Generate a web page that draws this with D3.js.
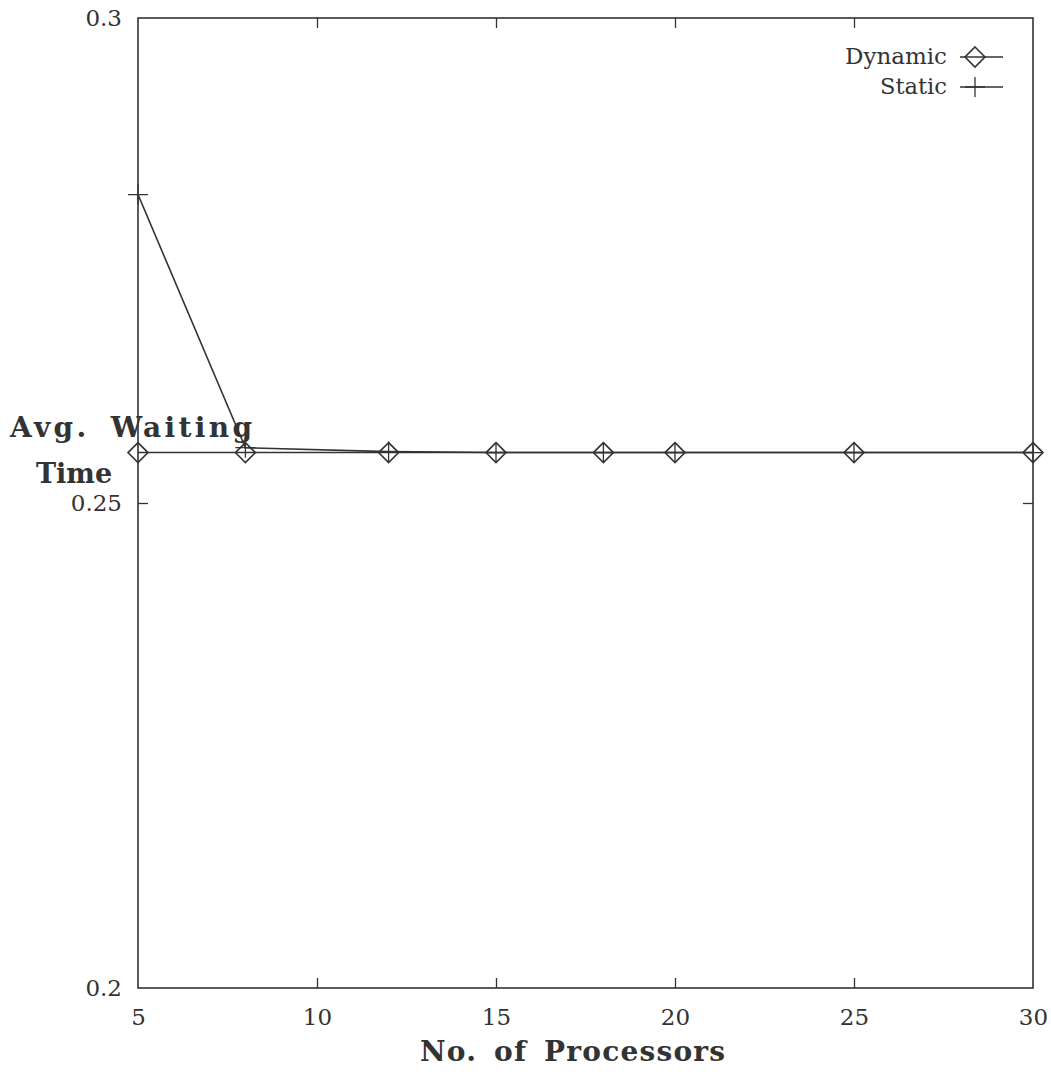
<!DOCTYPE html>
<html>
<head>
<meta charset="utf-8">
<script src="https://cdn.jsdelivr.net/npm/d3@7"></script>
<style>
  body { margin: 0; background: #fff; }
  svg text { font-family: "DejaVu Serif", "Liberation Serif", serif; fill: #333; }
</style>
</head>
<body>
<div id="chart"></div>
<script>
'use strict'

// data
const processors = [5, 8, 12, 15, 18, 20, 25, 30]
const dynamicWait = [0.2552, 0.2552, 0.2552, 0.2552, 0.2552, 0.2552, 0.2552, 0.2552]
const staticWait = [0.2818, 0.2557, 0.2553, 0.2552, 0.2552, 0.2552, 0.2552, 0.2552]
const xTicks = [5, 10, 15, 20, 25, 30]
const yTicks = [0.2, 0.25, 0.3]

const svgWidth = 1051, svgHeight = 1079
const margin = { left: 138, right: 18, top: 18, bottom: 91 }
const width = svgWidth - margin.left - margin.right
const height = svgHeight - margin.top - margin.bottom
const ink = '#333'

const svg = d3.select('#chart')
    .append('svg')
    .attr('width', svgWidth)
    .attr('height', svgHeight)

const g = svg.append('g')
    .attr('transform', `translate(${margin.left},${margin.top})`)

const x = d3.scaleLinear().domain([5, 30]).range([0, width])
const y = d3.scaleLinear().domain([0.2, 0.3]).range([height, 0])

// frame
g.append('rect')
    .attr('width', width).attr('height', height)
    .attr('fill', 'none').attr('stroke', ink).attr('stroke-width', 1.6)

// axes, ticks pointing inward
const fmtY = d => d3.format('')(+d.toFixed(2))
g.append('g').attr('transform', `translate(0,${height})`)
    .call(d3.axisBottom(x).tickValues(xTicks).tickSize(-10).tickPadding(21))
g.append('g').call(d3.axisTop(x).tickValues(xTicks).tickSize(-10).tickFormat(''))
g.append('g').call(d3.axisLeft(y).tickValues(yTicks).tickSize(-10).tickPadding(16).tickFormat(fmtY))
g.append('g').attr('transform', `translate(${width},0)`)
    .call(d3.axisRight(y).tickValues(yTicks).tickSize(-10).tickFormat(''))

g.selectAll('.domain').remove()
g.selectAll('.tick line').attr('stroke', ink).attr('stroke-width', 1.3)
g.selectAll('.tick text').attr('font-size', 23).attr('fill', ink)
    .style('font-family', '"DejaVu Serif", serif')
// drop the end-of-axis ticks that sit on the frame corners
g.selectAll('.tick line').filter(d => d === 5 || d === 30 || d === 0.2 || d === 0.3).remove()

const line = d3.line().x(d => x(d[0])).y(d => y(d[1]))

// static series
g.append('path')
    .datum(processors.map((p, i) => [p, staticWait[i]]))
    .attr('d', line).attr('fill', 'none').attr('stroke', ink).attr('stroke-width', 1.6)

// dynamic series
g.append('path')
    .datum(processors.map((p, i) => [p, dynamicWait[i]]))
    .attr('d', line).attr('fill', 'none').attr('stroke', ink).attr('stroke-width', 1.6)

const cross = 10
function plus(sel) {
    sel.append('path')
        .attr('d', `M${-cross},0H${cross}M0,${-cross}V${cross}`)
        .attr('stroke', ink).attr('stroke-width', 1.3).attr('fill', 'none')
}
function diamond(sel) {
    sel.append('path')
        .attr('d', `M0,${-cross}L${cross},0L0,${cross}L${-cross},0Z`)
        .attr('stroke', ink).attr('stroke-width', 1.6).attr('fill', 'none')
}

g.selectAll('.static-pt')
    .data(processors.map((p, i) => [p, staticWait[i]]))
    .join('g').attr('class', 'static-pt')
    .attr('transform', d => `translate(${x(d[0])},${y(d[1])})`)
    .call(plus)

g.selectAll('.dyn-pt')
    .data(processors.map((p, i) => [p, dynamicWait[i]]))
    .join('g').attr('class', 'dyn-pt')
    .attr('transform', d => `translate(${x(d[0])},${y(d[1])})`)
    .call(diamond)

// legend
const legend = [['Dynamic', diamond, 102], ['Static', plus, 67]]
legend.forEach((l, i) => {
    const ly = 39 + i * 30
    g.append('text').attr('x', 809).attr('y', ly + 7)
        .attr('text-anchor', 'end').attr('font-size', 22)
        .attr('textLength', l[2]).attr('lengthAdjust', 'spacingAndGlyphs').text(l[0])
    g.append('line').attr('x1', 822).attr('x2', 865).attr('y1', ly).attr('y2', ly)
        .attr('stroke', ink).attr('stroke-width', 1.5)
    g.append('g').attr('transform', `translate(837,${ly})`).call(l[1])
})

// axis titles
svg.append('text').attr('x', 10).attr('y', 437)
    .attr('font-size', 28).attr('font-weight', 'bold').style('word-spacing', '8px')
    .attr('textLength', 242).attr('lengthAdjust', 'spacing').text('Avg. Waiting')
svg.append('text').attr('x', 36).attr('y', 483)
    .attr('font-size', 27).attr('font-weight', 'bold').text('Time')
svg.append('text').attr('x', 420).attr('y', 1061)
    .attr('font-size', 28).attr('font-weight', 'bold').style('word-spacing', '6px')
    .attr('textLength', 305).attr('lengthAdjust', 'spacing').text('No. of Processors')
</script>
</body>
</html>
